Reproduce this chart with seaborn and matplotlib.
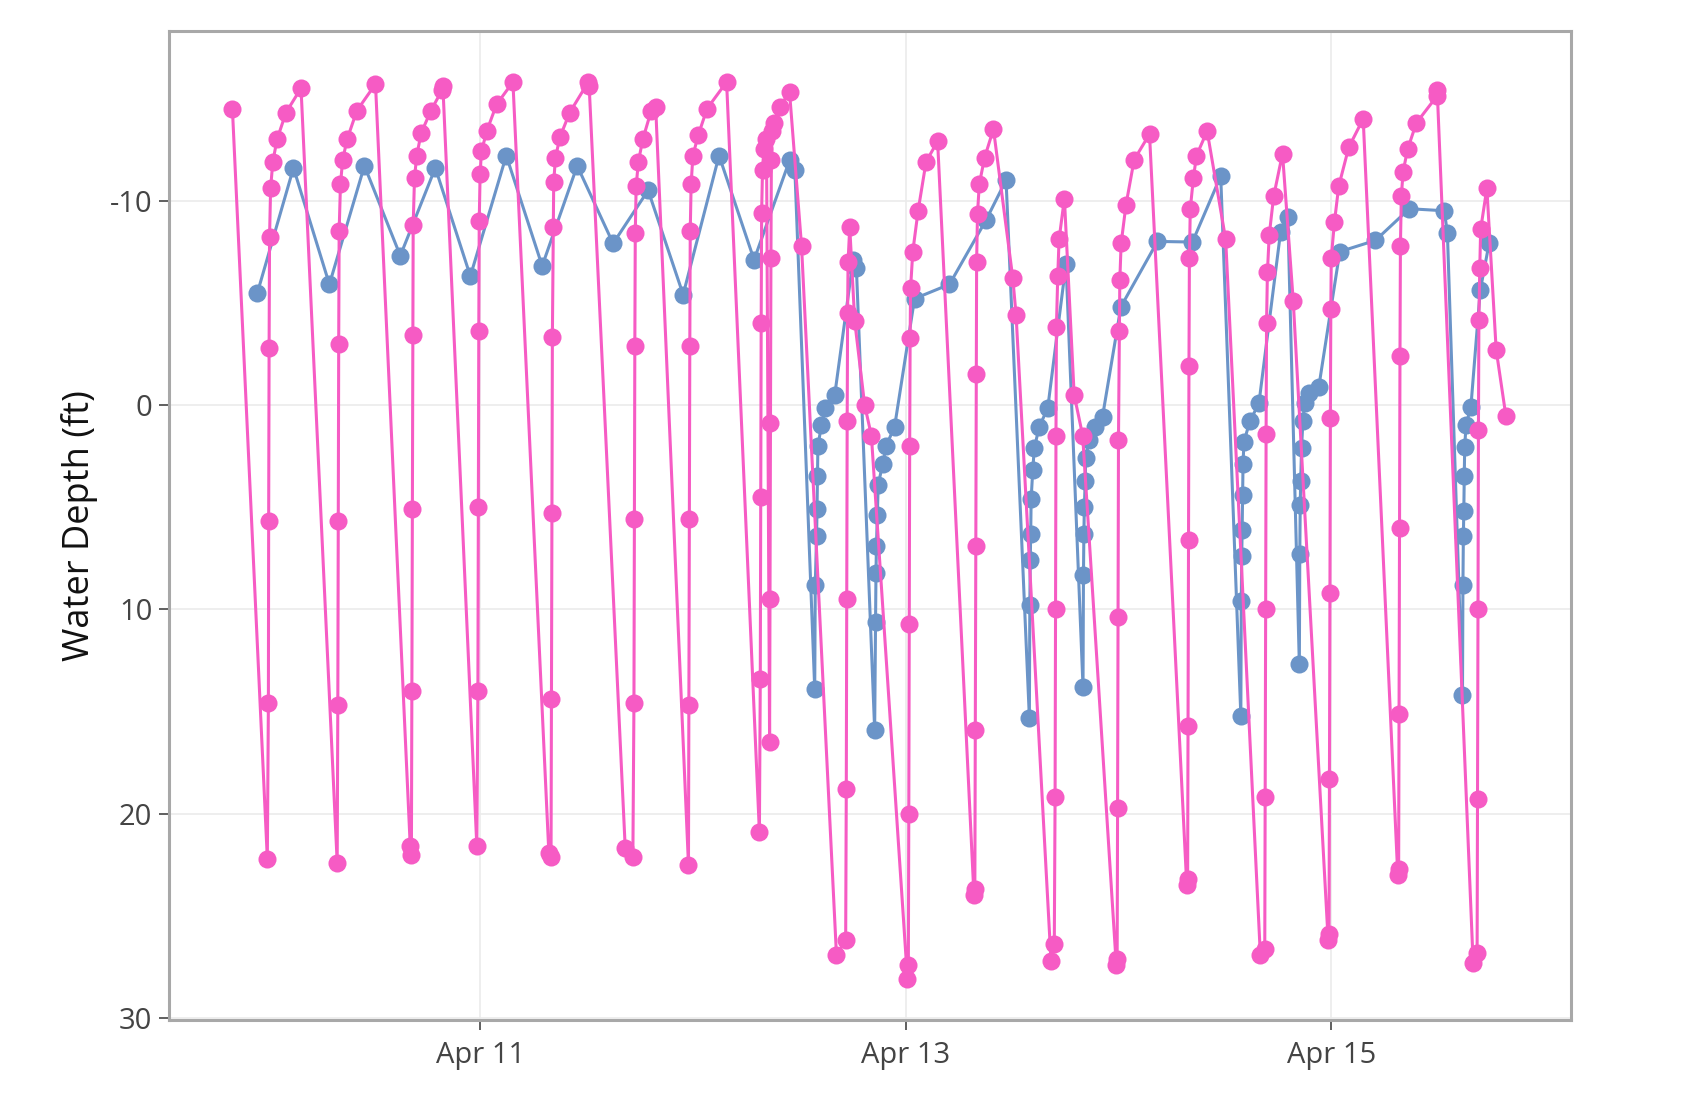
import pandas as pd
import matplotlib
matplotlib.use("Agg")
import matplotlib.pyplot as plt
import matplotlib.dates as mdates
import seaborn as sns

# hours after 2021-04-10 00:00
pink_hours = [
    -3.94, 0.00, 0.12, 0.15, 0.20, 0.25, 0.37, 0.62, 1.10, 2.10, 3.80,
    7.88, 7.95, 8.00, 8.05, 8.10, 8.25, 8.50, 9.00, 10.10, 12.20,
    16.12, 16.25, 16.30, 16.35, 16.40, 16.45, 16.60, 16.85, 17.35, 18.45, 19.70, 19.80,
    23.63, 23.75, 23.80, 23.85, 23.90, 24.00, 24.15, 24.75, 25.85, 27.70,
    31.75, 32.00, 32.05, 32.10, 32.15, 32.25, 32.30, 32.50, 33.00, 34.10, 36.20, 36.30,
    40.37, 41.23, 41.35, 41.40, 41.45, 41.50, 41.60, 41.85, 42.35, 43.30, 43.80,
    47.50, 47.55, 47.60, 47.65, 47.70, 47.80, 48.00, 48.60, 49.60, 51.80,
    55.50, 55.60, 55.65, 55.70, 55.75, 55.85, 56.00, 56.30, 56.65, 56.70, 56.75,
    56.80, 56.85, 56.95, 57.10, 57.80, 58.90, 60.25,
    64.19, 65.23, 65.30, 65.35, 65.40, 65.45, 65.50, 65.69, 66.25, 67.37, 68.13,
    72.20, 72.30, 72.35, 72.40, 72.45, 72.50, 72.55, 72.80, 73.40, 74.30, 75.60,
    79.70, 79.80, 79.85, 79.90, 79.95, 80.00, 80.10, 80.30, 80.90, 81.90, 84.08, 84.45,
    88.39, 88.76, 88.85, 88.90, 88.95, 89.00, 89.15, 89.30, 89.90, 91.00, 91.96,
    95.75, 95.85, 95.90, 95.95, 96.00, 96.10, 96.15, 96.30, 96.85, 97.77, 99.50,
    103.70, 103.80, 103.85, 103.90, 103.95, 104.00, 104.10, 104.45, 104.80, 106.00, 108.09,
    112.00, 112.50, 112.55, 112.60, 112.65, 112.70, 112.80, 113.00, 113.50, 114.50, 115.71,
    119.65, 119.75, 119.80, 119.85, 119.90, 119.95, 120.00, 120.36, 120.84, 121.97, 123.60,
    127.50, 127.60, 127.65, 127.70, 127.75, 127.80, 127.90, 128.10, 128.60, 129.60, 131.90, 131.95,
    136.00, 136.45, 136.50, 136.55, 136.60, 136.65, 136.75, 136.85, 137.55, 138.60, 139.70,
]
pink_depth = [
    -14.5, 22.2, 14.6, 5.7, -2.8, -8.2, -10.6, -11.9, -13.0, -14.3, -15.5,
    22.4, 14.7, 5.7, -3.0, -8.5, -10.8, -12.0, -13.0, -14.4, -15.7,
    21.6, 22.0, 14.0, 5.1, -3.4, -8.8, -11.1, -12.2, -13.3, -14.4, -15.4, -15.6,
    21.6, 14.0, 5.0, -3.6, -9.0, -11.3, -12.4, -13.4, -14.7, -15.8,
    21.9, 22.1, 14.4, 5.3, -3.3, -8.7, -10.9, -12.1, -13.1, -14.3, -15.8, -15.6,
    21.7, 22.1, 14.6, 5.6, -2.9, -8.4, -10.7, -11.9, -13.0, -14.4, -14.6,
    22.5, 14.7, 5.6, -2.9, -8.5, -10.8, -12.2, -13.2, -14.5, -15.8,
    20.9, 13.4, 4.5, -4.0, -9.4, -11.5, -12.5, -13.0, 16.5, 9.5, 0.9,
    -7.2, -12.0, -13.4, -13.8, -14.6, -15.3, -7.8,
    26.9, 26.2, 18.8, 9.5, 0.8, -4.5, -7.0, -8.7, -4.1, 0.0, 1.5,
    28.1, 27.4, 20.0, 10.7, 2.0, -3.25, -5.7, -7.5, -9.5, -11.9, -12.9,
    24.0, 23.7, 15.9, 6.9, -1.5, -7.0, -9.35, -10.8, -12.1, -13.5, -6.2, -4.4,
    27.2, 26.4, 19.2, 10.0, 1.5, -3.8, -6.3, -8.1, -10.1, -0.5, 1.5,
    27.4, 27.1, 19.7, 10.4, 1.7, -3.6, -6.1, -7.9, -9.8, -12.0, -13.25,
    23.5, 23.2, 15.7, 6.6, -1.9, -7.2, -9.6, -11.1, -12.2, -13.4, -8.1,
    26.9, 26.6, 19.2, 10.0, 1.4, -4.0, -6.5, -8.3, -10.2, -12.3, -5.1,
    26.2, 25.9, 18.3, 9.2, 0.65, -4.7, -7.2, -8.95, -10.7, -12.6, -14.0,
    23.0, 22.7, 15.1, 6.0, -2.4, -7.8, -10.2, -11.4, -12.5, -13.8, -15.1, -15.4,
    27.3, 26.8, 19.3, 10.0, 1.25, -4.15, -6.7, -8.6, -10.6, -2.7, 0.55,
]

blue_hours = [
    -1.11, 2.95, 7.00, 10.95, 15.00, 18.95, 22.90, 26.95, 31.00, 34.95,
    39.00, 42.95, 46.90, 50.95, 54.90, 58.93, 59.50,
    61.74, 61.80, 61.95, 62.00, 62.05, 62.10, 62.50, 62.90, 64.00, 66.07, 66.44,
    68.50, 68.60, 68.65, 68.70, 68.80, 68.90, 69.40, 69.80, 70.75, 73.00, 76.94, 81.07, 83.32,
    85.95, 86.00, 86.05, 86.10, 86.15, 86.33, 86.51, 87.07, 88.02, 90.08,
    92.00, 92.05, 92.10, 92.15, 92.25, 92.30, 92.70, 93.30, 94.20, 96.27, 100.40, 104.34, 107.53,
    109.80, 109.85, 109.90, 109.95, 110.00, 110.05, 110.15, 110.82, 111.84, 114.28, 115.10,
    116.40, 116.45, 116.50, 116.55, 116.65, 116.80, 117.00, 117.46, 118.60, 120.96, 124.98,
    128.80, 132.75, 133.10,
    134.80, 134.85, 134.90, 134.95, 135.00, 135.05, 135.20, 135.75, 136.80, 137.80,
]
blue_depth = [
    -5.5, -11.6, -5.9, -11.7, -7.3, -11.6, -6.3, -12.2, -6.8, -11.7,
    -7.9, -10.5, -5.4, -12.2, -7.1, -12.0, -11.5,
    13.9, 8.8, 6.4, 5.1, 3.5, 2.0, 1.0, 0.16, -0.5, -7.1, -6.7,
    15.9, 10.6, 8.2, 6.9, 5.4, 3.9, 2.9, 2.0, 1.06, -5.2, -5.9, -9.05, -11.0,
    15.3, 9.8, 7.6, 6.3, 4.6, 3.2, 2.1, 1.06, 0.16, -6.9,
    13.8, 8.3, 6.3, 5.0, 3.7, 2.6, 1.7, 1.06, 0.57, -4.8, -8.0, -7.97, -11.2,
    15.2, 9.6, 7.4, 6.1, 4.4, 2.9, 1.8, 0.8, -0.08, -8.45, -9.2,
    12.7, 7.3, 4.9, 3.7, 2.1, 0.8, -0.1, -0.57, -0.9, -7.5, -8.05,
    -9.6, -9.5, -8.4,
    14.2, 8.8, 6.4, 5.2, 3.5, 2.06, 0.98, 0.08, -5.6, -7.9,
]

start = pd.Timestamp("2021-04-10")
pink_df = pd.DataFrame({"time": start + pd.to_timedelta(pink_hours, unit="h"), "depth": pink_depth})
blue_df = pd.DataFrame({"time": start + pd.to_timedelta(blue_hours, unit="h"), "depth": blue_depth})

sns.set_theme(style="white")
plt.rcParams["font.family"] = ["Open Sans", "DejaVu Sans"]
plt.rcParams["axes.unicode_minus"] = False

fig = plt.figure(figsize=(17.08, 11.04), dpi=100)
ax = fig.add_axes([0.099, 0.076, 0.821, 0.896])

line_kw = dict(marker="o", markersize=13, markeredgewidth=0, linewidth=2.2,
               estimator=None, sort=False, ax=ax)
sns.lineplot(data=blue_df, x="time", y="depth", color="#6b94c8", **line_kw)
sns.lineplot(data=pink_df, x="time", y="depth", color="#f65bc4", **line_kw)

ax.set_xlim(start + pd.Timedelta(hours=-11.08), start + pd.Timedelta(hours=147.08))
ax.set_ylim(30.1, -18.3)
ax.set_yticks([-10, 0, 10, 20, 30])
ax.xaxis.set_major_locator(mdates.DayLocator(bymonthday=[11, 13, 15]))
ax.xaxis.set_major_formatter(mdates.DateFormatter("%b %d"))

ax.grid(True, color="#ebebeb", linewidth=1.2)
ax.set_axisbelow(True)
for s in ax.spines.values():
    s.set_color("#a8a8a8")
    s.set_linewidth(2.2)
ax.tick_params(axis="both", direction="out", length=7, width=1.2, color="#444444",
               labelcolor="#444444", labelsize=21, pad=5, bottom=True, left=True)
ax.tick_params(axis="x", pad=8)

ax.set_xlabel("")
ax.set_ylabel("Water Depth (ft)", fontsize=26, color="#111111")
ax.yaxis.set_label_coords(-0.051, 0.5)

fig.savefig("out.png", dpi=100)
